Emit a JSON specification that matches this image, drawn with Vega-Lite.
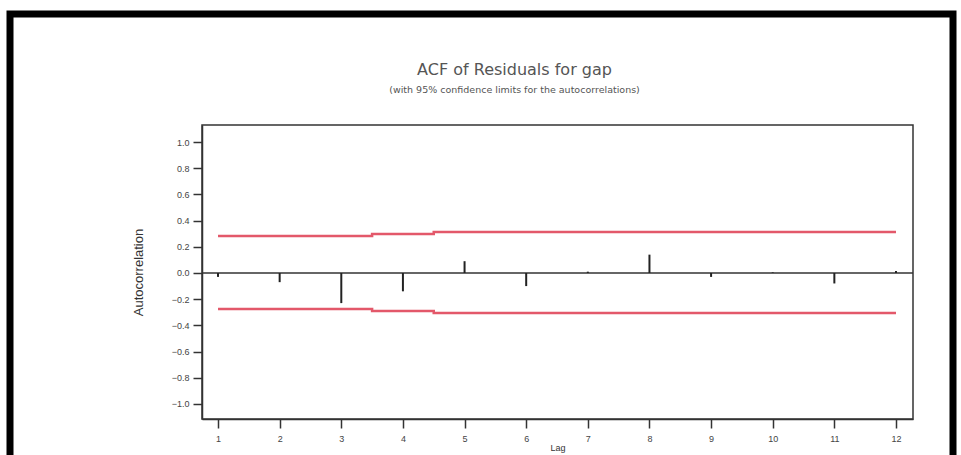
{
  "$schema": "https://vega.github.io/schema/vega-lite/v6.json",
  "width": 943,
  "height": 500,
  "autosize": {"type": "none"},
  "padding": {"left": 10, "top": 14, "right": 8, "bottom": 0},
  "background": "white",
  "title": {
    "text": "ACF of Residuals for gap",
    "subtitle": "(with 95% confidence limits for the autocorrelations)",
    "anchor": "middle",
    "frame": "group",
    "dx": 33,
    "offset": -80,
    "font": "DejaVu Sans",
    "fontSize": 16,
    "fontWeight": "normal",
    "color": "#555",
    "subtitleFont": "DejaVu Sans",
    "subtitleFontSize": 9.5,
    "subtitleColor": "#555",
    "subtitlePadding": 7
  },
  "config": {
    "view": {"stroke": "black", "strokeWidth": 7, "fill": "white"},
    "axis": {
      "grid": false,
      "domainColor": "#333",
      "domainWidth": 1.5,
      "tickColor": "#333",
      "tickWidth": 1.5,
      "tickSize": 9,
      "labelFont": "Liberation Sans",
      "labelFontSize": 9,
      "labelColor": "#444",
      "titleFont": "Liberation Sans",
      "titleFontWeight": "normal",
      "titleColor": "#333"
    },
    "axisX": {"offset": -95, "labelPadding": 6, "titlePadding": 0, "titleFontSize": 9},
    "axisY": {"offset": -192, "labelPadding": 4, "titlePadding": 26, "titleFontSize": 13}
  },
  "data": {
    "values": [
      {"lag": 1, "acf": -0.03, "upper": 0.282, "lower": -0.275},
      {"lag": 2, "acf": -0.07, "upper": 0.282, "lower": -0.275},
      {"lag": 3, "acf": -0.23, "upper": 0.282, "lower": -0.275},
      {"lag": 4, "acf": -0.14, "upper": 0.298, "lower": -0.29},
      {"lag": 5, "acf": 0.09, "upper": 0.313, "lower": -0.305},
      {"lag": 6, "acf": -0.10, "upper": 0.313, "lower": -0.305},
      {"lag": 7, "acf": 0.01, "upper": 0.313, "lower": -0.305},
      {"lag": 8, "acf": 0.14, "upper": 0.313, "lower": -0.305},
      {"lag": 9, "acf": -0.03, "upper": 0.313, "lower": -0.305},
      {"lag": 10, "acf": 0.005, "upper": 0.313, "lower": -0.305},
      {"lag": 11, "acf": -0.08, "upper": 0.313, "lower": -0.305},
      {"lag": 12, "acf": 0.015, "upper": 0.313, "lower": -0.305}
    ]
  },
  "layer": [
    {
      "data": {"values": [{}]},
      "mark": {"type": "rect", "fill": "transparent", "stroke": "#333", "strokeWidth": 1.5},
      "encoding": {
        "x": {"datum": 0.74, "type": "quantitative", "title": "Lag", "scale": {"domain": [0.74, 12.276], "range": [192, 903], "nice": false, "zero": false}},
        "x2": {"datum": 12.276},
        "y": {"datum": -1.115, "type": "quantitative", "title": "Autocorrelation", "scale": {"domain": [-1.115, 1.13], "range": [405, 111], "nice": false, "zero": false}},
        "y2": {"datum": 1.13}
      }
    },
    {
      "data": {"values": [{}]},
      "mark": {"type": "rule", "stroke": "#333", "strokeWidth": 1.5},
      "encoding": {
        "x": {"datum": 0.74, "type": "quantitative", "title": "Lag", "scale": {"domain": [0.74, 12.276], "range": [192, 903], "nice": false, "zero": false}},
        "x2": {"datum": 12.276},
        "y": {"datum": 0, "type": "quantitative", "title": "Autocorrelation", "scale": {"domain": [-1.115, 1.13], "range": [405, 111], "nice": false, "zero": false}}
      }
    },
    {
      "mark": {"type": "rule", "stroke": "#222", "strokeWidth": 2},
      "encoding": {
        "x": {
          "field": "lag", "type": "quantitative", "title": "Lag",
          "scale": {"domain": [0.74, 12.276], "range": [192, 903], "nice": false, "zero": false},
          "axis": {"values": [1, 2, 3, 4, 5, 6, 7, 8, 9, 10, 11, 12], "format": "d"}
        },
        "y": {
          "field": "acf", "type": "quantitative", "title": "Autocorrelation",
          "scale": {"domain": [-1.115, 1.13], "range": [405, 111], "nice": false, "zero": false},
          "axis": {"values": [-1, -0.8, -0.6, -0.4, -0.2, 0, 0.2, 0.4, 0.6, 0.8, 1], "format": ".1f"}
        },
        "y2": {"datum": 0}
      }
    },
    {
      "mark": {"type": "line", "stroke": "#e3586a", "strokeWidth": 2.5, "interpolate": "step"},
      "encoding": {
        "x": {"field": "lag", "type": "quantitative", "title": "Lag", "scale": {"domain": [0.74, 12.276], "range": [192, 903], "nice": false, "zero": false}},
        "y": {"field": "upper", "type": "quantitative", "title": "Autocorrelation", "scale": {"domain": [-1.115, 1.13], "range": [405, 111], "nice": false, "zero": false}}
      }
    },
    {
      "mark": {"type": "line", "stroke": "#e3586a", "strokeWidth": 2.5, "interpolate": "step"},
      "encoding": {
        "x": {"field": "lag", "type": "quantitative", "title": "Lag", "scale": {"domain": [0.74, 12.276], "range": [192, 903], "nice": false, "zero": false}},
        "y": {"field": "lower", "type": "quantitative", "title": "Autocorrelation", "scale": {"domain": [-1.115, 1.13], "range": [405, 111], "nice": false, "zero": false}}
      }
    }
  ]
}
